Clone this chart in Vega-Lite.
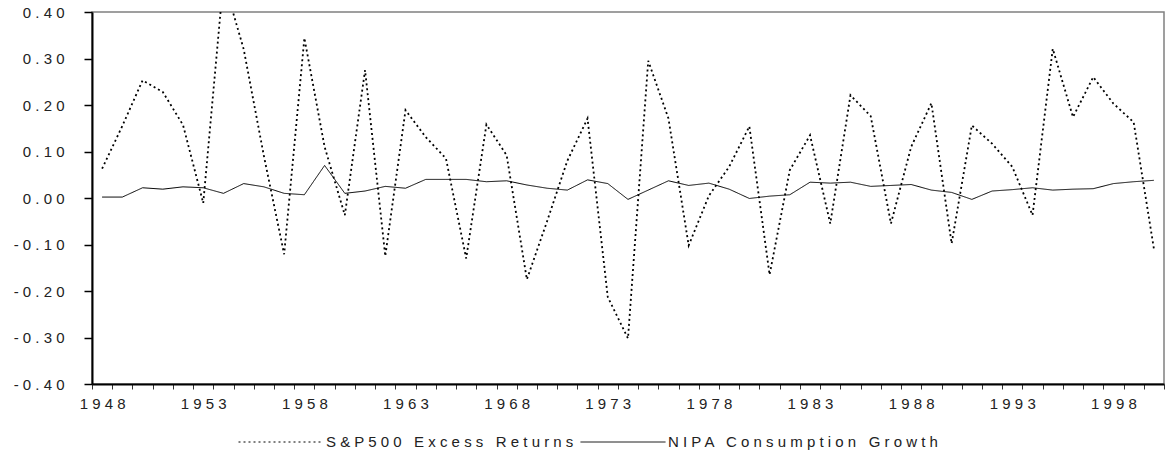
{
  "$schema": "https://vega.github.io/schema/vega-lite/v6.json",
  "width": 1072,
  "height": 372,
  "autosize": {"type": "none"},
  "padding": {"left": 92, "top": 12, "right": 1, "bottom": 73},
  "background": "white",
  "config": {
    "view": {"stroke": "#808080", "strokeWidth": 1.5},
    "font": "Liberation Sans"
  },
  "data": {
    "values": [
      {"year": 1948, "S&P500 Excess Returns": 0.063, "NIPA Consumption Growth": 0.002},
      {"year": 1949, "S&P500 Excess Returns": 0.155, "NIPA Consumption Growth": 0.002},
      {"year": 1950, "S&P500 Excess Returns": 0.253, "NIPA Consumption Growth": 0.022},
      {"year": 1951, "S&P500 Excess Returns": 0.228, "NIPA Consumption Growth": 0.019},
      {"year": 1952, "S&P500 Excess Returns": 0.157, "NIPA Consumption Growth": 0.024},
      {"year": 1953, "S&P500 Excess Returns": -0.011, "NIPA Consumption Growth": 0.022},
      {"year": 1954, "S&P500 Excess Returns": 0.47, "NIPA Consumption Growth": 0.010},
      {"year": 1955, "S&P500 Excess Returns": 0.32, "NIPA Consumption Growth": 0.031},
      {"year": 1956, "S&P500 Excess Returns": 0.09, "NIPA Consumption Growth": 0.024},
      {"year": 1957, "S&P500 Excess Returns": -0.121, "NIPA Consumption Growth": 0.010},
      {"year": 1958, "S&P500 Excess Returns": 0.344, "NIPA Consumption Growth": 0.007},
      {"year": 1959, "S&P500 Excess Returns": 0.11, "NIPA Consumption Growth": 0.070},
      {"year": 1960, "S&P500 Excess Returns": -0.037, "NIPA Consumption Growth": 0.010},
      {"year": 1961, "S&P500 Excess Returns": 0.275, "NIPA Consumption Growth": 0.015},
      {"year": 1962, "S&P500 Excess Returns": -0.125, "NIPA Consumption Growth": 0.025},
      {"year": 1963, "S&P500 Excess Returns": 0.189, "NIPA Consumption Growth": 0.021},
      {"year": 1964, "S&P500 Excess Returns": 0.131, "NIPA Consumption Growth": 0.040},
      {"year": 1965, "S&P500 Excess Returns": 0.085, "NIPA Consumption Growth": 0.040},
      {"year": 1966, "S&P500 Excess Returns": -0.13, "NIPA Consumption Growth": 0.040},
      {"year": 1967, "S&P500 Excess Returns": 0.158, "NIPA Consumption Growth": 0.035},
      {"year": 1968, "S&P500 Excess Returns": 0.092, "NIPA Consumption Growth": 0.037},
      {"year": 1969, "S&P500 Excess Returns": -0.175, "NIPA Consumption Growth": 0.028},
      {"year": 1970, "S&P500 Excess Returns": -0.05, "NIPA Consumption Growth": 0.021},
      {"year": 1971, "S&P500 Excess Returns": 0.08, "NIPA Consumption Growth": 0.017},
      {"year": 1972, "S&P500 Excess Returns": 0.171, "NIPA Consumption Growth": 0.039},
      {"year": 1973, "S&P500 Excess Returns": -0.213, "NIPA Consumption Growth": 0.031},
      {"year": 1974, "S&P500 Excess Returns": -0.302, "NIPA Consumption Growth": -0.003},
      {"year": 1975, "S&P500 Excess Returns": 0.295, "NIPA Consumption Growth": 0.017},
      {"year": 1976, "S&P500 Excess Returns": 0.171, "NIPA Consumption Growth": 0.037},
      {"year": 1977, "S&P500 Excess Returns": -0.102, "NIPA Consumption Growth": 0.027},
      {"year": 1978, "S&P500 Excess Returns": 0.005, "NIPA Consumption Growth": 0.032},
      {"year": 1979, "S&P500 Excess Returns": 0.067, "NIPA Consumption Growth": 0.019},
      {"year": 1980, "S&P500 Excess Returns": 0.154, "NIPA Consumption Growth": -0.001},
      {"year": 1981, "S&P500 Excess Returns": -0.165, "NIPA Consumption Growth": 0.004},
      {"year": 1982, "S&P500 Excess Returns": 0.06, "NIPA Consumption Growth": 0.007},
      {"year": 1983, "S&P500 Excess Returns": 0.135, "NIPA Consumption Growth": 0.034},
      {"year": 1984, "S&P500 Excess Returns": -0.055, "NIPA Consumption Growth": 0.032},
      {"year": 1985, "S&P500 Excess Returns": 0.221, "NIPA Consumption Growth": 0.034},
      {"year": 1986, "S&P500 Excess Returns": 0.176, "NIPA Consumption Growth": 0.025},
      {"year": 1987, "S&P500 Excess Returns": -0.055, "NIPA Consumption Growth": 0.027},
      {"year": 1988, "S&P500 Excess Returns": 0.11, "NIPA Consumption Growth": 0.029},
      {"year": 1989, "S&P500 Excess Returns": 0.204, "NIPA Consumption Growth": 0.017},
      {"year": 1990, "S&P500 Excess Returns": -0.098, "NIPA Consumption Growth": 0.012},
      {"year": 1991, "S&P500 Excess Returns": 0.156, "NIPA Consumption Growth": -0.003},
      {"year": 1992, "S&P500 Excess Returns": 0.117, "NIPA Consumption Growth": 0.015},
      {"year": 1993, "S&P500 Excess Returns": 0.067, "NIPA Consumption Growth": 0.018},
      {"year": 1994, "S&P500 Excess Returns": -0.037, "NIPA Consumption Growth": 0.022},
      {"year": 1995, "S&P500 Excess Returns": 0.321, "NIPA Consumption Growth": 0.017},
      {"year": 1996, "S&P500 Excess Returns": 0.174, "NIPA Consumption Growth": 0.019},
      {"year": 1997, "S&P500 Excess Returns": 0.26, "NIPA Consumption Growth": 0.020},
      {"year": 1998, "S&P500 Excess Returns": 0.203, "NIPA Consumption Growth": 0.031},
      {"year": 1999, "S&P500 Excess Returns": 0.163, "NIPA Consumption Growth": 0.035},
      {"year": 2000, "S&P500 Excess Returns": -0.109, "NIPA Consumption Growth": 0.038}
    ]
  },
  "transform": [
    {"fold": ["S&P500 Excess Returns", "NIPA Consumption Growth"], "as": ["series", "value"]}
  ],
  "encoding": {
    "x": {
      "field": "year",
      "type": "quantitative",
      "scale": {"domain": [1947.5, 2000.5], "nice": false, "zero": false},
      "axis": {
        "values": [1947.5, 1948.5, 1949.5, 1950.5, 1951.5, 1952.5, 1953.5, 1954.5, 1955.5, 1956.5, 1957.5, 1958.5, 1959.5, 1960.5, 1961.5, 1962.5, 1963.5, 1964.5, 1965.5, 1966.5, 1967.5, 1968.5, 1969.5, 1970.5, 1971.5, 1972.5, 1973.5, 1974.5, 1975.5, 1976.5, 1977.5, 1978.5, 1979.5, 1980.5, 1981.5, 1982.5, 1983.5, 1984.5, 1985.5, 1986.5, 1987.5, 1988.5, 1989.5, 1990.5, 1991.5, 1992.5, 1993.5, 1994.5, 1995.5, 1996.5, 1997.5, 1998.5, 1999.5, 2000.5],
        "title": null,
        "grid": false,
        "domainColor": "black",
        "domainWidth": 2,
        "tickColor": "#333333",
        "tickSize": 5,
        "tickWidth": 1,
        "labelExpr": "((datum.value + 0.5 - 1948) % 5 == 0 && datum.value < 2000) ? join(split(toString(datum.value + 0.5), ''), ' ') : ''",
        "labelOffset": 10.1,
        "labelPadding": 7,
        "labelFontSize": 15,
        "labelColor": "#222222",
        "labelOverlap": false,
        "labelFlush": false,
        "labelBound": false
      }
    },
    "y": {
      "field": "value",
      "type": "quantitative",
      "scale": {"domain": [-0.4, 0.4], "nice": false},
      "axis": {
        "values": [-0.4, -0.3, -0.2, -0.1, 0, 0.1, 0.2, 0.3, 0.4],
        "title": null,
        "grid": false,
        "domainColor": "black",
        "domainWidth": 2,
        "tickColor": "black",
        "tickSize": 8,
        "tickWidth": 1.5,
        "labelExpr": "join(split((datum.value < -0.001 ? '-' : '') + format(abs(datum.value), '.2f'), ''), ' ')",
        "labelPadding": 20,
        "labelFontSize": 15,
        "labelColor": "#222222"
      }
    },
    "strokeDash": {
      "field": "series",
      "type": "nominal",
      "scale": {
        "domain": ["S&P500 Excess Returns", "NIPA Consumption Growth"],
        "range": [[2, 3], [1, 0]]
      },
      "legend": {
        "orient": "none",
        "legendX": 146,
        "legendY": 387,
        "direction": "horizontal",
        "title": null,
        "symbolType": "stroke",
        "symbolSize": 7225,
        "symbolStrokeColor": "black",
        "symbolStrokeWidth": 1,
        "labelFontSize": 15,
        "labelColor": "#222222",
        "labelLimit": 800,
        "labelOffset": 2,
        "columnPadding": 4,
        "padding": 0,
        "labelExpr": "join(split(join(split(datum.label, ''), ' '), '   '), ' \u00a0 ')"
      }
    }
  },
  "layer": [
    {
      "transform": [{"filter": "datum.series == 'NIPA Consumption Growth'"}],
      "mark": {"type": "line", "color": "black", "strokeWidth": 1, "clip": true}
    },
    {
      "transform": [{"filter": "datum.series == 'S&P500 Excess Returns'"}],
      "mark": {"type": "line", "color": "black", "strokeWidth": 1.8, "clip": true}
    }
  ]
}
